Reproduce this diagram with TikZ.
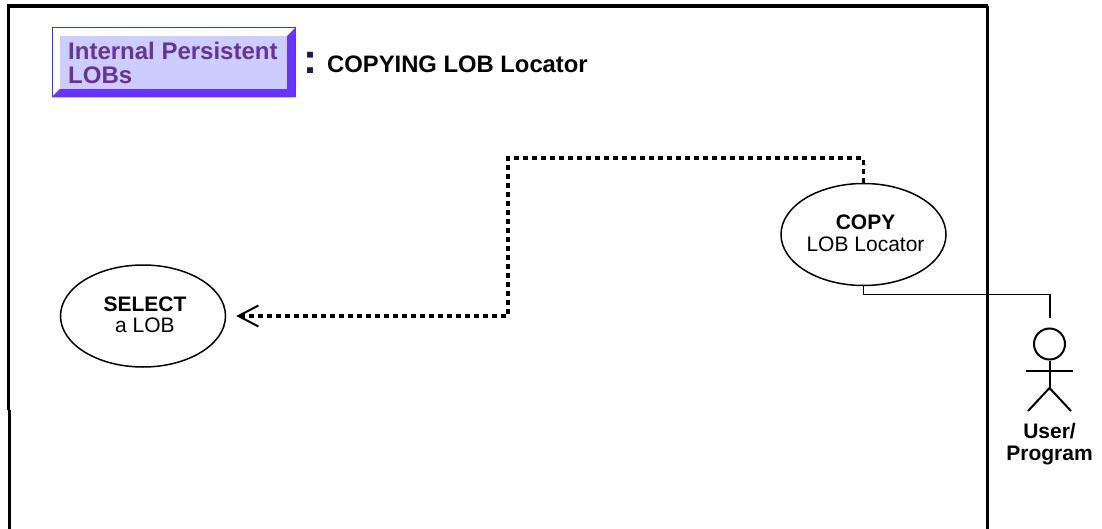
\documentclass[tikz,border=0pt]{standalone}
\usepackage{fontspec}
\setmainfont{Liberation Sans}
\usepackage{tikz}
\usetikzlibrary{arrows.meta,calc,positioning,shapes.geometric}
\definecolor{boxFill}{HTML}{CCCCFF}
\definecolor{boxEdge}{HTML}{3333FF}
\definecolor{boxBevel}{HTML}{6633FF}
\definecolor{boxText}{HTML}{663399}
\definecolor{colonDark}{HTML}{1A1A55}
\tikzset{
  usecase/.style={draw,ellipse,line width=1.5pt,minimum width=165pt,minimum height=102pt,inner sep=0pt},
  caselabel/.style={inner sep=0pt,align=center,xshift=2pt,yshift=1pt,font=\fontsize{21}{21.5}\selectfont},
  frameline/.style={line width=3.5pt},
  actorline/.style={line width=2pt},
  dep/.style={line width=3.5pt,dash pattern=on 5pt off 4pt},
  assoc/.style={line width=1.2pt}
}
\begin{document}
\begin{tikzpicture}[x=1pt,y=-1pt]
\useasboundingbox (0,0) rectangle (1102,529);

% draw the frame
\draw [frameline] (8.7,410) -- (8.7,6) -- (987.7,6);
\draw [line width=2.8pt] (987.7,6) -- (987.7,529);
\draw [line width=3pt] (9.2,410) -- (9.2,529);

% draw the title box
\node (titleOuter) at (173.5,62.5) [draw=boxEdge,fill=white,line width=1pt,minimum width=243pt,minimum height=69pt,inner sep=0pt] {};
\node (titleInner) at (173.5,62.5) [fill=boxFill,minimum width=227pt,minimum height=53pt,inner sep=0pt] {};
\fill [boxBevel] (titleOuter.north east) -- (titleOuter.south east) -- (titleOuter.south west) -- (titleInner.south west) -- (titleInner.south east) -- (titleInner.north east) -- cycle;
\node (titleLabel) at (68,62.5) [anchor=west,inner sep=0pt,align=left,text=boxText,font=\bfseries\fontsize{24}{24}\selectfont] {Internal Persistent\\LOBs};
\node (titleColon) at (310,62.5) [inner sep=0pt,text=colonDark,font=\bfseries\fontsize{42}{42}\selectfont] {:};
\node (titleText) at (327,64) [anchor=west,inner sep=0pt,font=\bfseries\fontsize{23.8}{24}\selectfont] {COPYING LOB Locator};

% draw the use cases
\node (copyCase) at (863.5,234.5) [usecase,label={[name=copyText,caselabel]center:{\textbf{COPY}\\LOB Locator}}] {};
\node (selectCase) at (143,316) [usecase,label={[name=selectText,caselabel]center:{\textbf{SELECT}\\a LOB}}] {};

% draw the actor
\node (actorHead) at (1049.5,344) [draw,circle,actorline,minimum size=31pt,inner sep=0pt] {};
\coordinate (actorHip) at (1049.5,388);
\coordinate (actorTop) at (1050,318);
\coordinate (armLeft) at (1026,370.5);
\coordinate (armRight) at (1073,370.5);
\coordinate (legLeft) at (1028,411);
\coordinate (legRight) at (1071,411);
\draw [actorline] (actorHead.south) -- (actorHip);
\draw [actorline] (armLeft) -- (armRight);
\draw [actorline] (legLeft) -- (actorHip) -- (legRight);
\node (actorLabel) at (1049.5,444.5) [inner sep=0pt,align=center,font=\bfseries\fontsize{21}{22}\selectfont] {User/\\Program};

% draw the connectors
\coordinate (depCornerA) at (508,158);
\coordinate (depCornerB) at (508,316);
\draw [dep,-{Straight Barb[length=20pt,width=21pt,line width=2pt]}] (copyCase.north) -- (copyCase.north |- depCornerA) -- (depCornerA) -- (depCornerB) -- ($(selectCase.east)+(10,0)$);
\draw [assoc] (copyCase.south) |- ++(0,8) -| (actorTop);
\end{tikzpicture}
\end{document}
